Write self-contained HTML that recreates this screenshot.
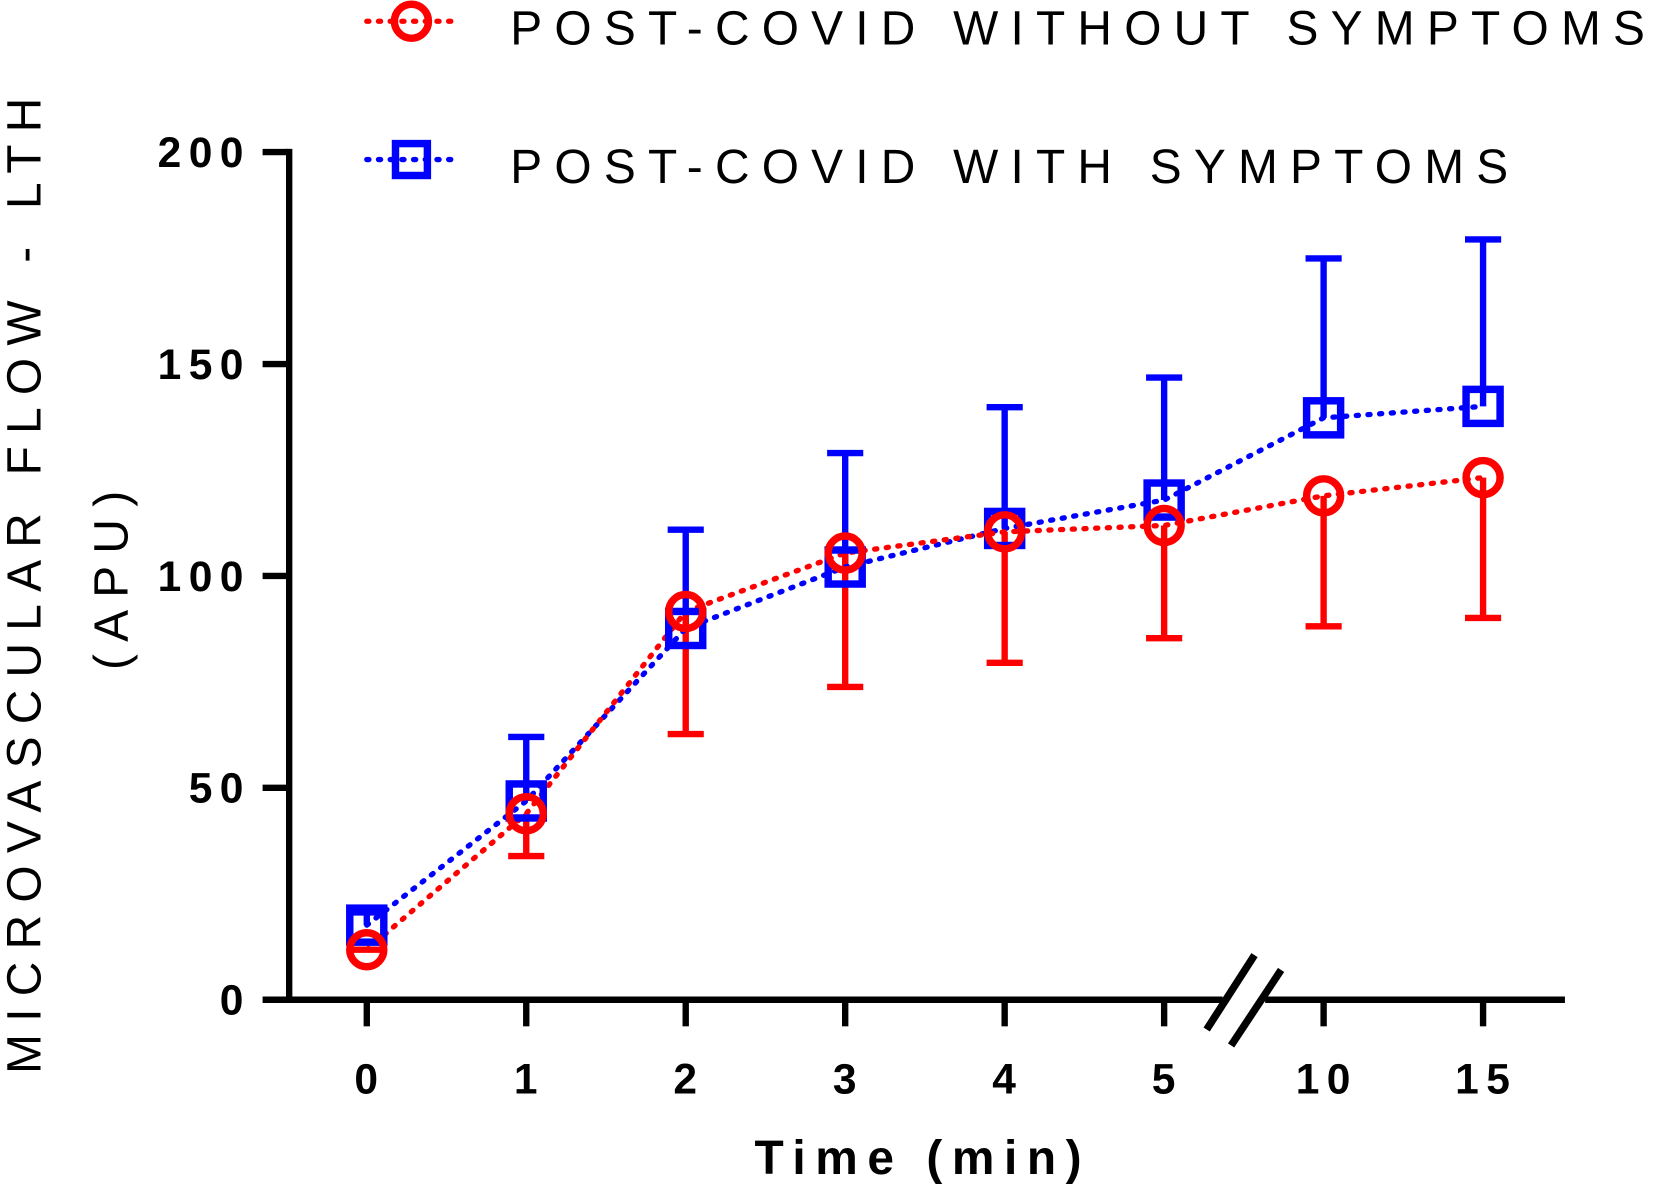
<!DOCTYPE html>
<html><head><meta charset="utf-8"><style>
html,body{margin:0;padding:0;background:#fff}
svg{display:block}
text{font-family:"Liberation Sans",sans-serif}
</style></head><body>
<svg id="c" width="1667" height="1188" viewBox="0 0 1568 1117" preserveAspectRatio="none">
<g id="axes"></g><g id="series"></g>
<g>
 <g>
  <line x1="345" y1="20" x2="425" y2="20" stroke="#f00" stroke-width="5" stroke-dasharray="2 9" stroke-linecap="round"/>
  <circle cx="387" cy="20" r="16" fill="none" stroke="#f00" stroke-width="7"/>
  <text x="480" y="42" font-size="45" letter-spacing="11.5">POST-COVID WITHOUT SYMPTOMS</text>
 </g>
 <g>
  <line x1="345" y1="150" x2="425" y2="150" stroke="#00f" stroke-width="5" stroke-dasharray="2 9" stroke-linecap="round"/>
  <rect x="372" y="135" width="30" height="30" fill="none" stroke="#00f" stroke-width="7"/>
  <text x="480" y="172" font-size="45" letter-spacing="11.5">POST-COVID WITH SYMPTOMS</text>
 </g>
</g>
<g>
 <text transform="translate(38,545) rotate(-90)" text-anchor="middle" font-size="45" letter-spacing="11.5">MICROVASCULAR FLOW - LTH</text>
 <text transform="translate(120,540) rotate(-90)" text-anchor="middle" font-size="45" letter-spacing="11.5">(APU)</text>
</g>
<text x="868" y="1104" text-anchor="middle" font-size="45" font-weight="bold" letter-spacing="9">Time (min)</text>
</svg>
<script>
const categories=["0","1","2","3","4","5","10","15"];
const yTicks=[0,50,100,150,200];
const withoutMean=[11.8,43.9,91.6,105.4,110.4,111.9,118.9,123.2];
const withoutLow=[11.8,33.9,62.7,73.8,79.5,85.3,88.1,90.1];
const withMean=[17.6,46.9,87.6,102.1,111.2,117.9,137.3,140.0];
const withHigh=[20.6,62,110.9,129,139.8,146.8,174.9,179.4];
const NS="http://www.w3.org/2000/svg";
const X=i=>345+i*150, Y=v=>940-v*3.985;
function mk(p,tag,attrs){const e=document.createElementNS(NS,tag);for(const k in attrs)e.setAttribute(k,attrs[k]);p.appendChild(e);return e;}
const ax=document.getElementById('axes');
let e=mk(ax,'line',{x1:272,y1:140,x2:272,y2:942,stroke:'#000','stroke-width':6});


e=mk(ax,'line',{x1:269,y1:940,x2:1472,y2:940,stroke:'#000','stroke-width':6});


yTicks.forEach(v=>{
 mk(ax,'line',{x1:247,y1:Y(v),x2:272,y2:Y(v),stroke:'#000','stroke-width':6});
 const t=mk(ax,'text',{x:236,y:Y(v)+14,'text-anchor':'end','font-size':40,'font-weight':'bold','letter-spacing':7});
 t.textContent=v;
 
 
});
categories.forEach((c,i)=>{
 mk(ax,'line',{x1:X(i),y1:940,x2:X(i),y2:965,stroke:'#000','stroke-width':6});
 const t=mk(ax,'text',{x:X(i)+3,y:1028,'text-anchor':'middle','font-size':40,'font-weight':'bold','letter-spacing':7});
 t.textContent=c;
 
 
});
e=mk(ax,'g',{});


mk(e,'rect',{x:1150,y:936,width:40,height:10,fill:'#fff'});
mk(e,'line',{x1:1135,y1:968,x2:1180,y2:898,stroke:'#000','stroke-width':7});
mk(e,'line',{x1:1158,y1:983,x2:1205,y2:912,stroke:'#000','stroke-width':7});
const s=document.getElementById('series');
function path(vals){return vals.map((v,i)=>(i?'L':'M')+X(i)+' '+Y(v)).join(' ');}
withMean.forEach((v,i)=>{
 const g=mk(s,'g',{stroke:'#00f','stroke-width':6});
 
 
 mk(g,'line',{x1:X(i),y1:Y(v),x2:X(i),y2:Y(withHigh[i])});
 mk(g,'line',{x1:X(i)-17,y1:Y(withHigh[i]),x2:X(i)+17,y2:Y(withHigh[i])});
});
withoutMean.forEach((v,i)=>{
 const g=mk(s,'g',{stroke:'#f00','stroke-width':6});
 
 
 mk(g,'line',{x1:X(i),y1:Y(v),x2:X(i),y2:Y(withoutLow[i])});
 mk(g,'line',{x1:X(i)-17,y1:Y(withoutLow[i]),x2:X(i)+17,y2:Y(withoutLow[i])});
});
e=mk(s,'path',{d:path(withMean),fill:'none',stroke:'#00f','stroke-width':5,'stroke-dasharray':'2 9','stroke-linecap':'round'});


e=mk(s,'path',{d:path(withoutMean),fill:'none',stroke:'#f00','stroke-width':5,'stroke-dasharray':'2 9','stroke-linecap':'round'});


withMean.forEach((v,i)=>{
 const r=mk(s,'rect',{x:X(i)-16,y:Y(v)-16,width:32,height:32,fill:'none',stroke:'#00f','stroke-width':7});
 
 
});
withoutMean.forEach((v,i)=>{
 const c=mk(s,'circle',{cx:X(i),cy:Y(v),r:16,fill:'none',stroke:'#f00','stroke-width':7});
 
 
});
</script>
</body></html>
